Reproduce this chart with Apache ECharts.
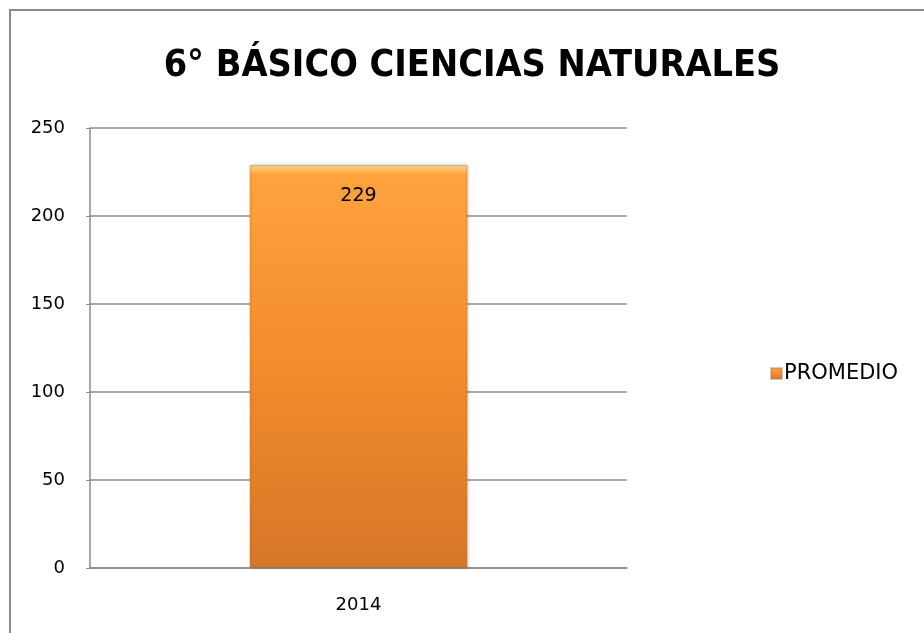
<!DOCTYPE html>
<html lang="es" style="background: #FFFFFF;height: 100%">

<head>
    <meta charset="utf-8" />
    <title>6° BÁSICO CIENCIAS NATURALES</title>
    <script type="text/javascript" src="https://cdn.jsdelivr.net/npm/echarts@6/dist/echarts.min.js"></script>
</head>

<body style="margin: 0;height: 100%">
    <div id="frame" style="position:absolute;left:9px;top:9px;right:0;bottom:0;border-left:2px solid #8a8a8a;border-top:2px solid #8a8a8a"></div>
    <div id="chart" style="position:absolute;left:0;top:0;width:924px;height:633px"></div>
    <script>
    let categories = ['2014']
    let promedio = [229]
    let yTicks = [0, 50, 100, 150, 200, 250]

    let chart = echarts.init(document.getElementById('chart'), null, { renderer: 'canvas' })

    let font = '"DejaVu Sans Condensed", "DejaVu Sans", sans-serif'
    let labelFont = '"DejaVu Sans", sans-serif'

    chart.setOption({
        animation: false,
        title: {
            text: '6° BÁSICO CIENCIAS NATURALES',
            left: 467,
            top: 42,
            textAlign: 'center',
            textStyle: { fontFamily: font, fontSize: 37.5, fontWeight: 'bold', color: '#000' }
        },
        legend: {
            data: ['PROMEDIO'],
            left: 765,
            top: 358,
            itemWidth: 11,
            itemHeight: 11,
            itemGap: 2,
            icon: 'rect',
            textStyle: { fontFamily: labelFont, fontSize: 21, color: '#000', padding: [0, 0, 0, -3] }
        },
        grid: { left: 90, top: 128, width: 537, height: 440, containLabel: false },
        xAxis: {
            type: 'category',
            data: categories,
            axisLine: { lineStyle: { color: '#8c8c8c', width: 1.5 } },
            axisTick: { show: false },
            axisLabel: { fontFamily: labelFont, fontSize: 18, color: '#000', margin: 28 }
        },
        yAxis: {
            type: 'value',
            min: yTicks[0],
            max: yTicks[yTicks.length - 1],
            interval: 50,
            axisLine: { show: true, lineStyle: { color: '#8c8c8c', width: 1.5 } },
            axisTick: { show: true, length: 4, lineStyle: { color: '#8c8c8c' } },
            axisLabel: { fontFamily: labelFont, fontSize: 18, color: '#000', margin: 25 },
            splitLine: { lineStyle: { color: '#8c8c8c', width: 1.5 } }
        },
        series: [{
            name: 'PROMEDIO',
            type: 'bar',
            data: promedio,
            barWidth: 218,
            itemStyle: {
                color: new echarts.graphic.LinearGradient(0, 0, 0, 1, [
                    { offset: 0, color: '#ffd58a' },
                    { offset: 0.025, color: '#ffa23e' },
                    { offset: 0.5, color: '#f28c2c' },
                    { offset: 1, color: '#d77628' }
                ]),
                borderColor: 'rgba(150,110,70,0.35)',
                borderWidth: 1,
                shadowColor: 'rgba(0,0,0,0.2)',
                shadowBlur: 3,
                shadowOffsetX: 1
            },
            label: {
                show: true,
                position: 'insideTop',
                distance: 22,
                fontFamily: labelFont,
                fontSize: 19,
                color: '#000'
            }
        }]
    })
    </script>
</body>

</html>
